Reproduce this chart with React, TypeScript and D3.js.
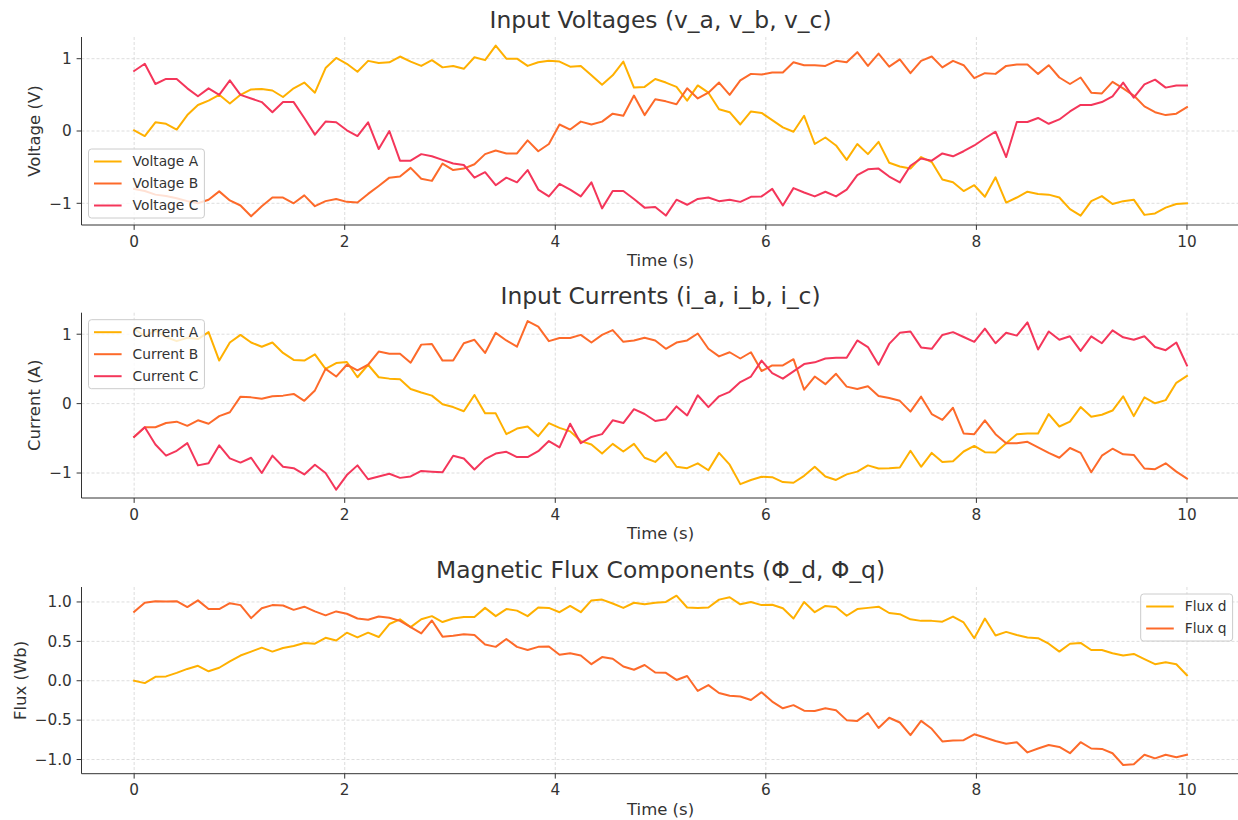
import { useEffect, useRef } from 'react'
import * as d3 from 'd3'

// sampled at 100 evenly spaced points over 0..10 s
const voltageA = [
  0.01, -0.07, 0.12, 0.10, 0.02, 0.22, 0.36, 0.42, 0.50, 0.38,
  0.50, 0.575, 0.58, 0.56, 0.47, 0.59, 0.67, 0.53, 0.87, 1.01,
  0.93, 0.82, 0.97, 0.94, 0.95, 1.03, 0.96, 0.90, 0.98, 0.88,
  0.90, 0.86, 1.02, 0.98, 1.18, 1.00, 1.00, 0.90, 0.95, 0.97,
  0.96, 0.89, 0.90, 0.77, 0.64, 0.77, 0.96, 0.60, 0.61, 0.72,
  0.67, 0.61, 0.42, 0.63, 0.53, 0.30, 0.26, 0.09, 0.27, 0.25,
  0.15, 0.05, -0.01, 0.21, -0.18, -0.09, -0.20, -0.40, -0.18, -0.32,
  -0.15, -0.44, -0.49, -0.52, -0.36, -0.43, -0.67, -0.71, -0.83, -0.75,
  -0.91, -0.64, -0.99, -0.92, -0.84, -0.87, -0.88, -0.92, -1.08, -1.17,
  -0.97, -0.90, -1.01, -0.97, -0.95, -1.16, -1.14, -1.06, -1.01, -1.00
]
const voltageB = [
  -0.80, -0.83, -0.88, -0.90, -0.93, -0.97, -1.00, -0.95, -0.835, -0.96,
  -1.03, -1.18, -1.04, -0.92, -0.92, -1.00, -0.89, -1.04, -0.97, -0.94,
  -0.98, -0.99, -0.87, -0.76, -0.645, -0.63, -0.51, -0.66, -0.69, -0.45,
  -0.54, -0.52, -0.46, -0.32, -0.27, -0.31, -0.31, -0.13, -0.28, -0.18,
  0.09, 0.02, 0.13, 0.09, 0.13, 0.24, 0.21, 0.49, 0.22, 0.44,
  0.41, 0.37, 0.59, 0.45, 0.53, 0.67, 0.50, 0.70, 0.79, 0.78,
  0.81, 0.81, 0.95, 0.91, 0.91, 0.90, 0.97, 0.95, 1.09, 0.90,
  1.07, 0.89, 0.99, 0.80, 0.97, 1.03, 0.88, 0.97, 0.91, 0.73,
  0.80, 0.79, 0.90, 0.92, 0.92, 0.79, 0.91, 0.74, 0.65, 0.74,
  0.53, 0.52, 0.68, 0.59, 0.49, 0.34, 0.26, 0.22, 0.24, 0.33
]
const voltageC = [
  0.83, 0.93, 0.65, 0.72, 0.72, 0.59, 0.48, 0.59, 0.50, 0.70,
  0.50, 0.45, 0.40, 0.26, 0.40, 0.40, 0.18, -0.05, 0.13, 0.12,
  0.01, -0.07, 0.12, -0.25, 0.00, -0.41, -0.41, -0.32, -0.35, -0.40,
  -0.45, -0.47, -0.645, -0.57, -0.75, -0.645, -0.71, -0.54, -0.81, -0.905,
  -0.73, -0.81, -0.905, -0.71, -1.07, -0.83, -0.83, -0.94, -1.06, -1.05,
  -1.17, -0.95, -1.02, -0.94, -0.92, -0.97, -0.95, -0.98, -0.91, -0.905,
  -0.80, -1.03, -0.79, -0.85, -0.905, -0.84, -0.905, -0.81, -0.61, -0.53,
  -0.52, -0.63, -0.71, -0.48, -0.38, -0.41, -0.31, -0.35, -0.28, -0.20,
  -0.10, -0.01, -0.36, 0.125, 0.125, 0.18, 0.10, 0.16, 0.27, 0.36,
  0.36, 0.40, 0.48, 0.67, 0.46, 0.645, 0.71, 0.60, 0.63, 0.63
]
const currentA = [
  1.08, 0.97, 1.05, 0.96, 0.90, 0.95, 0.93, 1.03, 0.62, 0.88,
  0.99, 0.88, 0.82, 0.88, 0.73, 0.63, 0.62, 0.71, 0.50, 0.585,
  0.60, 0.38, 0.56, 0.38, 0.36, 0.35, 0.21, 0.16, 0.115, -0.01,
  -0.05, -0.11, 0.125, -0.14, -0.14, -0.44, -0.36, -0.33, -0.47, -0.28,
  -0.35, -0.40, -0.54, -0.59, -0.72, -0.58, -0.69, -0.58, -0.78, -0.84,
  -0.70, -0.91, -0.93, -0.86, -0.96, -0.71, -0.88, -1.16, -1.10, -1.055,
  -1.06, -1.13, -1.14, -1.04, -0.91, -1.05, -1.10, -1.02, -0.98, -0.89,
  -0.935, -0.93, -0.92, -0.68, -0.91, -0.71, -0.84, -0.83, -0.69, -0.61,
  -0.70, -0.705, -0.57, -0.44, -0.43, -0.43, -0.15, -0.33, -0.26, -0.05,
  -0.19, -0.16, -0.10, 0.105, -0.18, 0.09, 0.005, 0.05, 0.30, 0.40
]
const currentB = [
  -0.48, -0.34, -0.34, -0.28, -0.26, -0.32, -0.24, -0.29, -0.18, -0.125,
  0.10, 0.09, 0.07, 0.105, 0.115, 0.14, 0.04, 0.19, 0.50, 0.39,
  0.56, 0.48, 0.56, 0.75, 0.72, 0.72, 0.59, 0.85, 0.86, 0.62,
  0.62, 0.87, 0.92, 0.73, 1.02, 0.91, 0.82, 1.19, 1.11, 0.90,
  0.945, 0.945, 0.99, 0.88, 0.99, 1.06, 0.89, 0.91, 0.95, 0.91,
  0.79, 0.88, 0.91, 1.01, 0.79, 0.68, 0.74, 0.65, 0.74, 0.47,
  0.55, 0.55, 0.64, 0.20, 0.39, 0.28, 0.43, 0.245, 0.21, 0.25,
  0.11, 0.08, 0.04, -0.115, 0.10, -0.15, -0.235, -0.06, -0.43, -0.44,
  -0.24, -0.44, -0.57, -0.57, -0.55, -0.63, -0.71, -0.78, -0.64, -0.71,
  -0.99, -0.75, -0.65, -0.73, -0.74, -0.935, -0.945, -0.86, -0.98, -1.08
]
const currentC = [
  -0.48, -0.34, -0.59, -0.75, -0.68, -0.57, -0.89, -0.86, -0.60, -0.79,
  -0.85, -0.78, -1.00, -0.75, -0.91, -0.93, -1.02, -0.88, -1.00, -1.24,
  -1.03, -0.89, -1.09, -1.05, -1.01, -1.07, -1.05, -0.97, -0.98, -0.99,
  -0.75, -0.79, -0.95, -0.80, -0.72, -0.695, -0.77, -0.77, -0.685, -0.54,
  -0.63, -0.29, -0.57, -0.48, -0.44, -0.24, -0.28, -0.08, -0.15, -0.25,
  -0.225, -0.04, -0.17, 0.12, -0.05, 0.105, 0.17, 0.31, 0.39, 0.62,
  0.44, 0.36, 0.465, 0.57, 0.595, 0.65, 0.66, 0.66, 0.91, 0.815,
  0.56, 0.86, 1.02, 1.04, 0.81, 0.79, 0.99, 1.03, 0.96, 0.89,
  1.08, 0.87, 1.02, 0.98, 1.17, 0.78, 1.04, 0.92, 0.97, 0.76,
  0.97, 0.87, 1.055, 0.955, 0.92, 0.97, 0.815, 0.77, 0.88, 0.55
]
const fluxD = [
  0.00, -0.03, 0.05, 0.055, 0.10, 0.15, 0.19, 0.12, 0.165, 0.245,
  0.32, 0.37, 0.42, 0.37, 0.415, 0.44, 0.48, 0.47, 0.545, 0.51,
  0.61, 0.55, 0.61, 0.555, 0.72, 0.78, 0.68, 0.78, 0.82, 0.745,
  0.79, 0.81, 0.81, 0.925, 0.82, 0.91, 0.89, 0.82, 0.93, 0.925,
  0.87, 0.95, 0.87, 1.02, 1.03, 0.98, 0.925, 0.99, 0.97, 0.99,
  1.00, 1.08, 0.93, 0.925, 0.93, 1.03, 1.06, 0.97, 1.00, 0.96,
  0.965, 0.92, 0.79, 1.00, 0.87, 0.95, 0.935, 0.825, 0.91, 0.925,
  0.94, 0.86, 0.845, 0.78, 0.76, 0.76, 0.75, 0.815, 0.74, 0.54,
  0.79, 0.575, 0.62, 0.58, 0.55, 0.54, 0.47, 0.37, 0.47, 0.48,
  0.39, 0.39, 0.35, 0.32, 0.34, 0.275, 0.21, 0.235, 0.21, 0.07
]
const fluxQ = [
  0.875, 0.99, 1.01, 1.005, 1.01, 0.935, 1.02, 0.91, 0.91, 0.985,
  0.96, 0.795, 0.92, 0.96, 0.955, 0.90, 0.94, 0.88, 0.83, 0.88,
  0.85, 0.79, 0.775, 0.815, 0.80, 0.76, 0.68, 0.60, 0.765, 0.56,
  0.57, 0.59, 0.58, 0.46, 0.43, 0.53, 0.43, 0.39, 0.43, 0.435,
  0.33, 0.35, 0.32, 0.21, 0.30, 0.28, 0.18, 0.14, 0.20, 0.105,
  0.10, 0.01, 0.06, -0.13, -0.055, -0.155, -0.19, -0.20, -0.245, -0.145,
  -0.265, -0.35, -0.31, -0.38, -0.385, -0.35, -0.375, -0.50, -0.51, -0.41,
  -0.60, -0.47, -0.53, -0.69, -0.51, -0.61, -0.77, -0.76, -0.755, -0.68,
  -0.72, -0.765, -0.80, -0.78, -0.91, -0.86, -0.815, -0.84, -0.92, -0.78,
  -0.86, -0.865, -0.92, -1.07, -1.06, -0.94, -0.985, -0.94, -0.97, -0.94
]

const xTicks = [0, 2, 4, 6, 8, 10]
const intTicks = [-1, 0, 1]
const fluxTicks = [-1.0, -0.5, 0.0, 0.5, 1.0]

const COLORS = ['#ffb000', '#fd6a2a', '#f4365a']

export default function App() {
  const svgRef = useRef<SVGSVGElement>(null)

  useEffect(() => {
    if (!svgRef.current) return
    const svg = d3.select(svgRef.current)
    svg.selectAll('*').remove()

    const font = "'DejaVu Sans', sans-serif"
    const left = 81.5
    const right = 1239.6
    const tickLen = 4.9
    const tickFs = 15.3
    const x = d3.scaleLinear().domain([-0.5, 10.5]).range([left, right])
    const n = voltageA.length
    const time = d3.range(n).map(i => (i * 10) / (n - 1))

    const panels = [
      {
        title: 'Input Voltages (v_a, v_b, v_c)', ylabel: 'Voltage (V)',
        top: 37, bottom: 225, yDomain: [-1.3, 1.3], yTicks: intTicks, fmt: d3.format('d'),
        legend: 'lower left',
        series: [
          { label: 'Voltage A', values: voltageA },
          { label: 'Voltage B', values: voltageB },
          { label: 'Voltage C', values: voltageC },
        ],
      },
      {
        title: 'Input Currents (i_a, i_b, i_c)', ylabel: 'Current (A)',
        top: 312.7, bottom: 498, yDomain: [-1.36, 1.31], yTicks: intTicks, fmt: d3.format('d'),
        legend: 'upper left',
        series: [
          { label: 'Current A', values: currentA },
          { label: 'Current B', values: currentB },
          { label: 'Current C', values: currentC },
        ],
      },
      {
        title: 'Magnetic Flux Components (Φ_d, Φ_q)', ylabel: 'Flux (Wb)',
        top: 587, bottom: 773.7, yDomain: [-1.18, 1.19], yTicks: fluxTicks, fmt: d3.format('.1f'),
        legend: 'upper right',
        series: [
          { label: 'Flux d', values: fluxD },
          { label: 'Flux q', values: fluxQ },
        ],
      },
    ]

    panels.forEach(p => {
      const y = d3.scaleLinear().domain(p.yDomain).range([p.bottom, p.top])
      const g = svg.append('g')

      // grid
      g.selectAll('.vgrid').data(xTicks).join('line')
        .attr('x1', d => x(d)).attr('x2', d => x(d))
        .attr('y1', p.top).attr('y2', p.bottom)
        .attr('stroke', '#d4d4d4').attr('stroke-width', 0.8).attr('stroke-dasharray', '3,2')
      g.selectAll('.hgrid').data(p.yTicks).join('line')
        .attr('x1', left).attr('x2', right)
        .attr('y1', d => y(d)).attr('y2', d => y(d))
        .attr('stroke', '#d4d4d4').attr('stroke-width', 0.8).attr('stroke-dasharray', '3,2')

      // lines
      p.series.forEach((s, i) => {
        const line = d3.line<number>()
          .x((_, j) => x(time[j]))
          .y(d => y(d))
        g.append('path')
          .datum(s.values)
          .attr('d', line)
          .attr('fill', 'none')
          .attr('stroke', COLORS[i])
          .attr('stroke-width', 2)
          .attr('stroke-linejoin', 'round')
          .attr('stroke-linecap', 'square')
      })

      // spines + ticks
      g.append('line').attr('x1', left).attr('x2', left).attr('y1', p.top).attr('y2', p.bottom)
        .attr('stroke', '#333').attr('stroke-width', 1)
      g.append('line').attr('x1', left).attr('x2', right).attr('y1', p.bottom).attr('y2', p.bottom)
        .attr('stroke', '#333').attr('stroke-width', 1)

      g.selectAll('.xt').data(xTicks).join('line')
        .attr('x1', d => x(d)).attr('x2', d => x(d))
        .attr('y1', p.bottom).attr('y2', p.bottom + tickLen)
        .attr('stroke', '#333')
      g.selectAll('.xl').data(xTicks).join('text')
        .attr('x', d => x(d)).attr('y', p.bottom + 21.5)
        .attr('text-anchor', 'middle')
        .style('font-family', font).style('font-size', `${tickFs}px`).style('fill', '#333')
        .text(d => String(d))

      g.selectAll('.yt').data(p.yTicks).join('line')
        .attr('x1', left - tickLen).attr('x2', left)
        .attr('y1', d => y(d)).attr('y2', d => y(d))
        .attr('stroke', '#333')
      const yLabels = g.selectAll('.yl').data(p.yTicks).join('text')
        .attr('x', left - 9.7).attr('y', d => y(d)).attr('dy', '0.35em')
        .attr('text-anchor', 'end')
        .style('font-family', font).style('font-size', `${tickFs}px`).style('fill', '#333')
        .text(d => p.fmt(d))

      let maxW = 0
      yLabels.each(function () {
        maxW = Math.max(maxW, (this as SVGTextElement).getComputedTextLength())
      })

      // axis labels
      g.append('text')
        .attr('x', (left + right) / 2).attr('y', p.bottom + 41)
        .attr('text-anchor', 'middle')
        .style('font-family', font).style('font-size', '16.5px').style('fill', '#333')
        .text('Time (s)')
      const ly = (p.top + p.bottom) / 2
      const lx = left - 9.7 - maxW - 9
      g.append('text')
        .attr('transform', `translate(${lx},${ly}) rotate(-90)`)
        .attr('text-anchor', 'middle')
        .style('font-family', font).style('font-size', '16.5px').style('fill', '#333')
        .text(p.ylabel)

      // title
      g.append('text')
        .attr('x', (left + right) / 2).attr('y', p.top - 8.6)
        .attr('text-anchor', 'middle')
        .style('font-family', font).style('font-size', '23.4px').style('fill', '#333')
        .text(p.title)

      // legend
      const fs = 13.8
      const rowH = 22
      const lg = g.append('g')
      const texts = p.series.map(s =>
        lg.append('text')
          .attr('dy', '0.35em')
          .style('font-family', font).style('font-size', `${fs}px`).style('fill', '#333')
          .text(s.label)
      )
      let tw = 0
      texts.forEach(t => { tw = Math.max(tw, (t.node() as SVGTextElement).getComputedTextLength()) })
      const boxW = 5.5 + 27.6 + 11 + tw + 6
      const boxH = 25 + (p.series.length - 1) * rowH
      const bx = p.legend === 'upper right' ? right - 7 - boxW : left + 7
      const by = p.legend === 'lower left' ? p.bottom - 7 - boxH : p.top + 7
      lg.insert('rect', 'text')
        .attr('x', bx).attr('y', by).attr('width', boxW).attr('height', boxH)
        .attr('rx', 3)
        .attr('fill', 'white').attr('fill-opacity', 0.8)
        .attr('stroke', '#cccccc').attr('stroke-width', 1)
      p.series.forEach((s, i) => {
        const ry = by + 12.5 + i * rowH
        lg.insert('line', 'text')
          .attr('x1', bx + 5.5).attr('x2', bx + 5.5 + 27.6)
          .attr('y1', ry).attr('y2', ry)
          .attr('stroke', COLORS[i]).attr('stroke-width', 2)
        texts[i].attr('x', bx + 5.5 + 27.6 + 11).attr('y', ry)
      })
    })
  }, [])

  return (
    <svg
      ref={svgRef}
      width={1238}
      height={820}
      style={{ position: 'absolute', left: 0, top: 0, background: 'white' }}
    />
  )
}
